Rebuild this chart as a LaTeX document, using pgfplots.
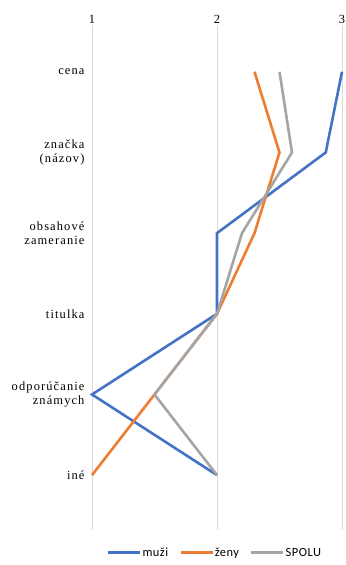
\documentclass[border=0pt]{standalone}
\usepackage{fontspec}
\setmainfont{Liberation Serif}
\newfontfamily\labfont[LetterSpace=9]{Liberation Serif}
\newfontfamily\legfont[LetterSpace=4]{Carlito}
\usepackage{pgfplots}
\pgfplotsset{compat=1.18}

\definecolor{cmuzi}{HTML}{4472C4}
\definecolor{czeny}{HTML}{ED7D31}
\definecolor{cspolu}{HTML}{A5A5A5}
\definecolor{cgrid}{HTML}{D9D9D9}

\begin{document}
\begin{tikzpicture}
\begin{axis}[
  at={(92bp,35bp)}, anchor=south west,
  scale only axis,
  width=250bp, height=505bp,
  xmin=1, xmax=3,
  ymin=-0.58, ymax=5.68,
  y dir=reverse,
  axis line style={draw=none},
  xtick={1,2,3},
  xticklabel pos=top,
  xticklabel style={font=\fontsize{12.5}{12.5}\selectfont, yshift=-2bp},
  /pgf/number format/assume math mode=true,
  ytick={0,1,2,3,4,5},
  yticklabels={cena, {značka\\(názov)}, {obsahové\\zameranie}, titulka, {odporúčanie\\známych}, iné},
  yticklabel style={font=\labfont\fontsize{12.5}{13.5}\selectfont, align=right, xshift=-4bp},
  major tick length=0pt,
  xmajorgrids,
  grid style={cgrid, line width=0.8bp},
  clip=false,
  legend columns=3,
  legend style={draw=none, fill=none, font=\legfont\fontsize{12.5}{12.5}\selectfont,
    at={(0.49,-0.045)}, anchor=center,
    /tikz/every even column/.append style={column sep=10bp},
    nodes={inner xsep=1bp}},
  legend image code/.code={\draw[#1] (0bp,0bp) -- (32bp,0bp);},
]
\addplot[cmuzi, line width=2.6bp] coordinates {
  (3.00,0) (2.87,1) (2.00,2) (2.00,3) (1.00,4) (2.00,5)};
\addlegendentry{muži}
\addplot[czeny, line width=2.6bp] coordinates {
  (2.30,0) (2.50,1) (2.30,2) (2.00,3) (1.50,4) (1.00,5)};
\addlegendentry{ženy}
\addplot[cspolu, line width=2.6bp] coordinates {
  (2.50,0) (2.60,1) (2.20,2) (2.00,3) (1.50,4) (2.00,5)};
\addlegendentry{SPOLU}
\end{axis}
\pgfresetboundingbox
\path[use as bounding box] (0,0) rectangle (346bp,565bp);
\end{tikzpicture}
\end{document}
